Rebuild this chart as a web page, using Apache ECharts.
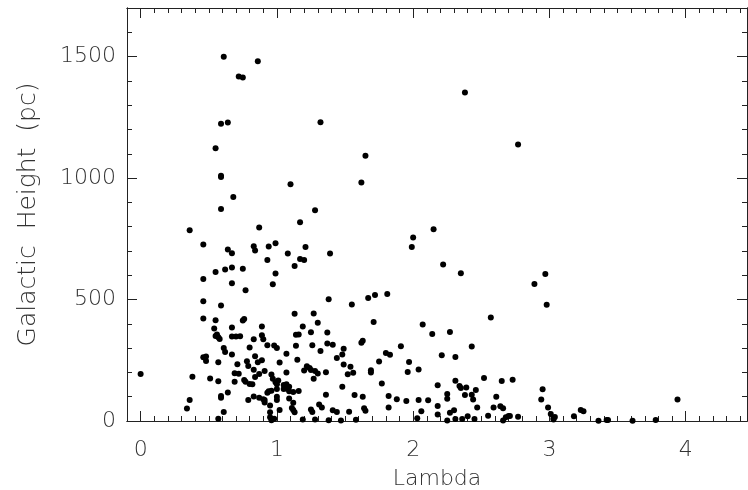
<!DOCTYPE html>
<html>
<head>
<meta charset="utf-8">
<script src="https://cdn.jsdelivr.net/npm/echarts@6/dist/echarts.min.js"></script>
<style>
  html, body { margin: 0; padding: 0; background: #fff; }
  #chart { width: 748px; height: 490px; }
</style>
</head>
<body>
<div id="chart"></div>
<script>
// Lambda vs galactic height
var lambdaValues = [
  0.61, 0.86, 0.72, 0.75, 0.59, 0.64, 1.32, 0.55, 1.65, 0.59,
  0.59, 1.10, 1.62, 0.68, 0.59, 1.28, 2.38, 2.77, 0.36, 0.87,
  1.17, 0.46, 2.00, 1.99, 2.15, 0.64, 0.67, 0.83, 0.84, 0.94,
  0.99, 1.08, 1.21, 1.39, 1.17, 1.20, 0.93, 1.13, 0.55, 0.62,
  0.67, 0.75, 0.99, 0.97, 0.46, 0.67, 0.77, 1.38, 0.46, 0.59,
  1.55, 1.67, 1.72, 1.81, 2.22, 2.35, 2.89, 2.97, 2.98, 2.57,
  1.71, 1.13, 1.27, 1.30, 1.19, 0.89, 0.75, 0.76, 0.46, 0.55,
  0.54, 0.67, 2.07, 2.14, 2.27, 2.43, 2.21, 2.31, 0.56, 0.55,
  0.57, 0.58, 0.67, 0.70, 0.73, 0.83, 0.89, 0.90, 1.14, 1.16,
  1.25, 1.37, 1.63, 1.62, 1.91, 0.61, 0.62, 0.80, 0.93, 0.98,
  1.00, 1.14, 1.26, 1.37, 1.41, 1.32, 1.49, 1.48, 1.44, 0.46,
  0.48, 0.48, 0.67, 0.57, 0.84, 0.78, 0.86, 0.89, 1.07, 1.02,
  0.71, 1.15, 1.80, 1.83, 1.75, 1.97, 2.04, 1.96, 1.54, 1.49,
  1.56, 1.52, 1.69, 1.69, 1.22, 1.24, 1.25, 1.28, 1.30, 1.20,
  1.36, 1.27, 0.83, 0.87, 0.84, 0.69, 0.72, 0.79, 0.91, 1.07,
  0.51, 0.57, 0.69, 0.76, 0.77, 0.80, 0.82, 0.96, 0.97, 0.99,
  1.00, 1.01, 1.05, 1.07, 1.09, 1.07, 1.05, 1.00, 0.94, 0.96,
  1.09, 1.12, 1.16, 1.77, 2.18, 1.48, 0.59, 0.59, 0.64, 0.79,
  0.83, 0.87, 0.90, 0.91, 0.93, 1.00, 1.00, 1.09, 1.12, 1.36,
  1.57, 1.63, 1.82, 1.88, 1.95, 2.04, 2.11, 2.18, 0.36, 0.34,
  0.00, 0.38, 0.61, 0.57, 0.95, 0.95, 1.02, 1.11, 1.12, 1.13,
  1.19, 1.25, 1.26, 1.28, 1.31, 1.33, 1.41, 1.44, 1.53, 1.58,
  1.64, 1.65, 1.82, 2.03, 2.06, 0.95, 0.97, 0.98, 0.91, 2.52,
  2.31, 2.34, 2.35, 2.39, 2.65, 2.73, 2.25, 2.25, 2.38, 2.43,
  2.46, 2.44, 2.61, 2.47, 2.59, 2.64, 2.66, 2.30, 2.27, 2.18,
  2.40, 2.55, 2.68, 2.70, 2.71, 2.77, 2.25, 2.31, 2.36, 2.45,
  2.66, 2.95, 2.94, 2.99, 3.01, 3.03, 3.04, 3.03, 3.18, 3.23,
  3.25, 3.36, 3.42, 3.43, 3.61, 3.78, 3.94, 0.96, 1.38, 1.47
];
var heightValues = [
  1499, 1481, 1418, 1414, 1224, 1229, 1230, 1123, 1092, 1004,
  1010, 975, 982, 922, 873, 868, 1352, 1138, 785, 797,
  818, 726, 755, 716, 789, 706, 691, 719, 702, 718,
  732, 689, 716, 689, 667, 663, 663, 638, 613, 624,
  632, 627, 607, 563, 585, 567, 538, 501, 493, 475,
  480, 506, 519, 523, 644, 608, 564, 605, 478, 426,
  407, 441, 443, 404, 389, 389, 414, 420, 422, 415,
  381, 385, 397, 358, 366, 307, 271, 263, 356, 350,
  345, 338, 348, 348, 349, 336, 353, 337, 355, 356,
  365, 364, 330, 322, 308, 300, 284, 303, 312, 311,
  300, 310, 312, 319, 314, 288, 297, 274, 259, 262,
  266, 247, 274, 242, 267, 246, 242, 250, 277, 241,
  234, 252, 280, 273, 245, 243, 212, 202, 223, 233,
  199, 192, 209, 200, 225, 218, 210, 206, 196, 208,
  201, 174, 211, 193, 181, 197, 194, 226, 206, 200,
  175, 164, 162, 169, 162, 152, 151, 191, 174, 159,
  151, 167, 148, 151, 141, 134, 132, 132, 122, 125,
  122, 119, 123, 154, 147, 141, 103, 96, 117, 86,
  101, 96, 90, 76, 116, 100, 86, 93, 75, 108,
  107, 100, 103, 90, 82, 86, 85, 62, 86, 51,
  193, 182, 37, 9, 64, 36, 45, 53, 45, 36,
  6, 47, 37, 6, 68, 56, 44, 37, 38, 5,
  52, 42, 56, 11, 40, 15, 8, 9, 86, 177,
  166, 144, 136, 138, 165, 170, 111, 92, 107, 108,
  128, 89, 100, 56, 56, 61, 52, 44, 34, 27,
  20, 22, 15, 21, 21, 18, 2, 8, 8, 8,
  2, 131, 89, 56, 29, 12, 16, 6, 20, 45,
  40, 1, 4, 4, 1, 4, 89, 3, 3, 2
];
var xTickLabels = [0, 1, 2, 3, 4];
var yTickLabels = [0, 500, 1000, 1500];

var points = lambdaValues.map(function (x, i) { return [x, heightValues[i]]; });

var xMin = -0.1, xMax = 4.45, yMin = 0, yMax = 1700;
var xMinor = [];
for (var k = -1; k <= 44; k++) xMinor.push(Math.round(k * 10) / 100);
var yMinor = [];
for (var m = 1; m <= 16; m++) yMinor.push(m * 100);

var font = 'DejaVu Sans';
var axisColor = '#222';
var textColor = '#333';
var textStyle = { fontSize: 22, fontFamily: font, fontWeight: 200, color: textColor };

function xAx(pos, ticks, len, labels) {
  return {
    type: 'value', position: pos, min: xMin, max: xMax,
    axisLine: { show: true, onZero: false, lineStyle: { color: axisColor, width: 1 } },
    axisTick: { show: true, inside: true, length: len, customValues: ticks, lineStyle: { color: axisColor } },
    axisLabel: labels ? Object.assign({ show: true, customValues: xTickLabels, margin: 18, formatter: function (v) { return String(v); } }, textStyle) : { show: false },
    splitLine: { show: false }
  };
}
function yAx(pos, ticks, len, labels) {
  return {
    type: 'value', position: pos, min: yMin, max: yMax,
    axisLine: { show: true, onZero: false, lineStyle: { color: axisColor, width: 1 } },
    axisTick: { show: true, inside: true, length: len, customValues: ticks, lineStyle: { color: axisColor } },
    axisLabel: labels ? Object.assign({ show: true, customValues: yTickLabels, margin: 11, formatter: function (v) { return String(v); } }, textStyle) : { show: false },
    splitLine: { show: false }
  };
}

var xAxes = [
  xAx('bottom', xTickLabels, 10, true),
  xAx('bottom', xMinor, 5, false),
  xAx('top', xTickLabels, 10, false),
  xAx('top', xMinor, 5, false)
];
xAxes[0].name = 'Lambda';
xAxes[0].nameLocation = 'middle';
xAxes[0].nameGap = 47;
xAxes[0].nameTextStyle = textStyle;

var yAxes = [
  yAx('left', yTickLabels, 10, true),
  yAx('left', yMinor, 5, false),
  yAx('right', yTickLabels, 10, false),
  yAx('right', yMinor, 5, false)
];
yAxes[0].name = 'Galactic  Height  (pc)';
yAxes[0].nameLocation = 'middle';
yAxes[0].nameGap = 86;
yAxes[0].nameTextStyle = Object.assign({}, textStyle, { fontSize: 25 });

var chart = echarts.init(document.getElementById('chart'), null, { renderer: 'canvas' });
chart.setOption({
  animation: false,
  backgroundColor: '#fff',
  grid: { left: 127, right: 1, top: 8, bottom: 69, containLabel: false, outerBoundsMode: 'none' },
  xAxis: xAxes,
  yAxis: yAxes,
  series: [{
    type: 'scatter',
    xAxisIndex: 0,
    yAxisIndex: 0,
    data: points,
    symbol: 'circle',
    symbolSize: 6,
    itemStyle: { color: '#000', opacity: 1 }
  }]
});
</script>
</body>
</html>
